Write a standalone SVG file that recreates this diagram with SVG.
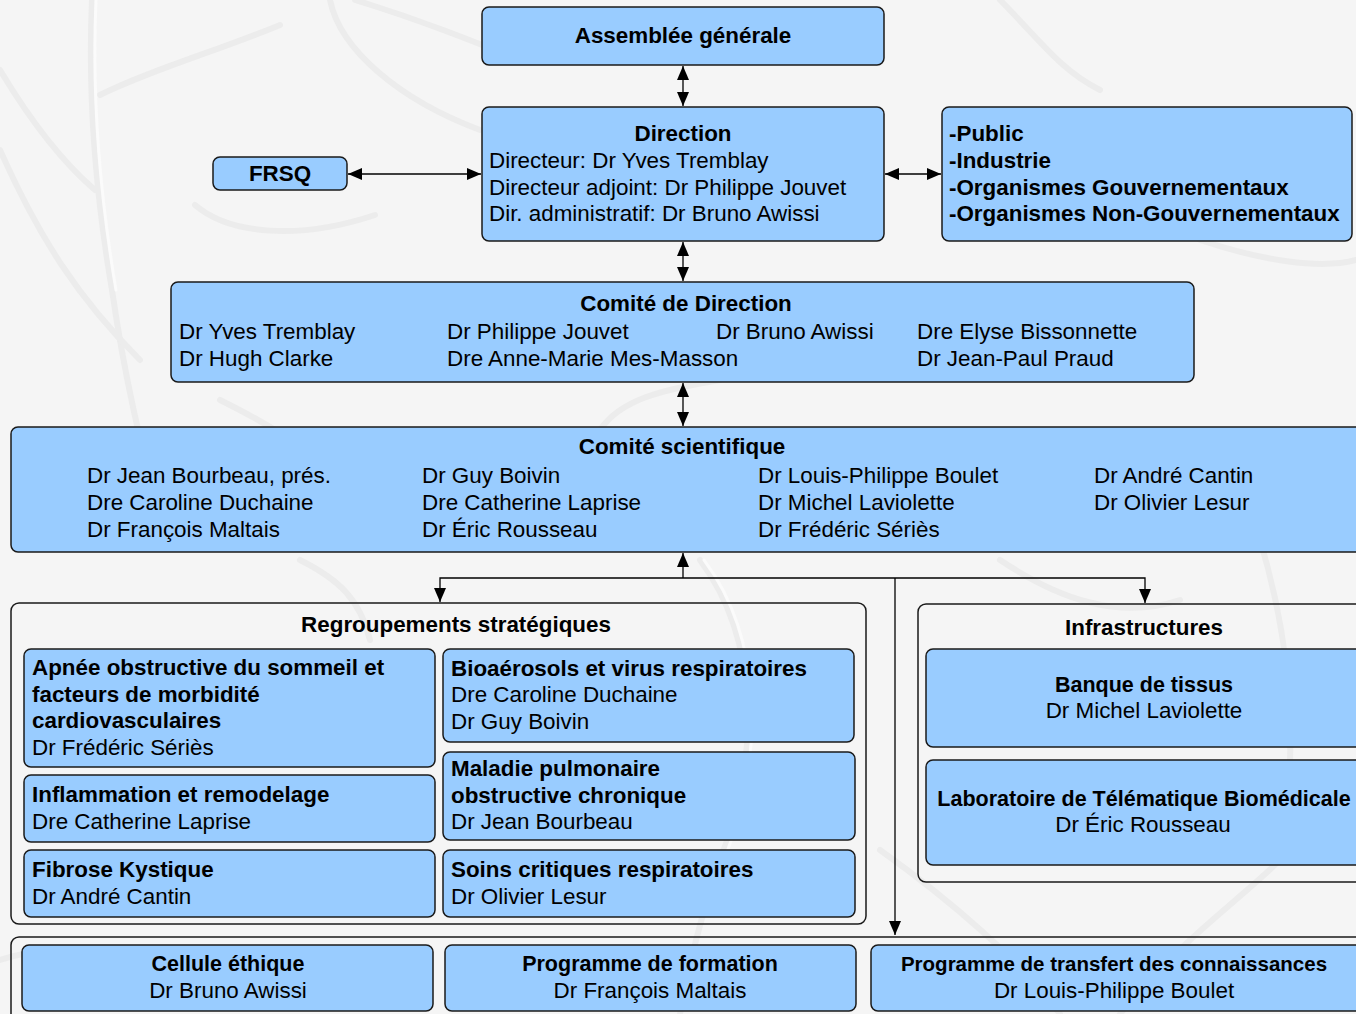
<svg xmlns="http://www.w3.org/2000/svg" width="1356" height="1014" viewBox="0 0 1356 1014">
<style>
.bg{fill:#f5f5f5}
.sw{fill:none;stroke:#ececec;stroke-width:6;stroke-linecap:round}
.swl{fill:none;stroke:#fbfbfb;stroke-width:3;stroke-linecap:round}
.box{fill:#99ccff;stroke:#1a1a1a;stroke-width:1.5}
.grp{fill:none;stroke:#1a1a1a;stroke-width:1.5}
text{font-family:"Liberation Sans",Arial,sans-serif;font-size:22.4px;fill:#000}
.b{font-weight:bold}
.c{text-anchor:middle}
.s{font-size:21.5px}
.xs{font-size:20.5px}
.ln{fill:none;stroke:#000;stroke-width:1.3}
</style>
<defs>
<marker id="ah" viewBox="0 0 14 12" refX="14" refY="6" markerWidth="14" markerHeight="12" markerUnits="userSpaceOnUse" orient="auto-start-reverse">
<path d="M0,0 L14,6 L0,12 Z" fill="#000"/>
</marker>
</defs>
<rect class="bg" x="0" y="0" width="1356" height="1014"/>
<g id="background-swirls">
<path class="sw" d="M92,0 C88,90 95,190 112,290 C125,380 140,440 160,520"/>
<path class="sw" d="M100,95 C150,70 220,50 280,25"/>
<path class="sw" d="M0,70 C30,120 60,160 95,190"/>
<path class="sw" d="M0,150 C40,240 80,300 140,360"/>
<path class="sw" d="M195,205 C230,235 300,240 375,215"/>
<path class="sw" d="M330,0 C340,50 400,100 480,130"/>
<path class="sw" d="M355,0 C420,20 470,40 520,60"/>
<path class="sw" d="M700,560 C760,640 760,760 720,860 C700,920 690,960 680,1014"/>
<path class="sw" d="M600,430 C620,400 660,390 720,380"/>
<path class="sw" d="M1260,540 C1290,640 1300,740 1280,860"/>
<path class="sw" d="M1000,560 C1060,600 1120,620 1180,600"/>
<path class="sw" d="M880,850 C950,900 1020,960 1060,1014"/>
<path class="sw" d="M1280,860 C1240,900 1180,940 1120,1014"/>
<path class="sw" d="M1000,0 C1040,40 1060,70 1100,90"/>
<path class="sw" d="M1200,240 C1260,260 1320,270 1356,260"/>
<path class="sw" d="M0,960 C60,940 120,950 180,1000"/>
<path class="sw" d="M220,400 C260,420 300,440 330,480"/>
<path class="sw" d="M300,560 C340,580 360,600 370,640"/>
<path class="swl" d="M96,0 C92,90 99,190 116,290"/>
<path class="swl" d="M704,560 C764,640 764,760 724,860"/>
</g>
<g id="connectors">
<line class="ln" x1="683" y1="66" x2="683" y2="106" marker-start="url(#ah)" marker-end="url(#ah)"/>
<line class="ln" x1="348" y1="174" x2="481" y2="174" marker-start="url(#ah)" marker-end="url(#ah)"/>
<line class="ln" x1="885" y1="174" x2="941" y2="174" marker-start="url(#ah)" marker-end="url(#ah)"/>
<line class="ln" x1="683" y1="242" x2="683" y2="281" marker-start="url(#ah)" marker-end="url(#ah)"/>
<line class="ln" x1="683" y1="383" x2="683" y2="426" marker-start="url(#ah)" marker-end="url(#ah)"/>
<line class="ln" x1="683" y1="578" x2="683" y2="553" marker-end="url(#ah)"/>
<polyline class="ln" points="440,602 440,578 1145,578 1145,603" marker-start="url(#ah)" marker-end="url(#ah)"/>
<line class="ln" x1="895" y1="578" x2="895" y2="935" marker-end="url(#ah)"/>
</g>
<g id="assemblee">
<rect class="box" x="482" y="7" width="402" height="58" rx="7"/>
<text class="b c" x="683" y="43">Assemblée générale</text>
</g>
<g id="direction">
<rect class="box" x="482" y="107" width="402" height="134" rx="7"/>
<text class="b c" x="683" y="141">Direction</text>
<text x="489" y="168">Directeur: Dr Yves Tremblay</text>
<text x="489" y="195">Directeur adjoint: Dr Philippe Jouvet</text>
<text x="489" y="221">Dir. administratif: Dr Bruno Awissi</text>
</g>
<g id="frsq">
<rect class="box" x="213" y="157" width="134" height="33" rx="7"/>
<text class="b c" x="280" y="181">FRSQ</text>
</g>
<g id="partenaires">
<rect class="box" x="942" y="107" width="410" height="134" rx="7"/>
<text class="b" x="949" y="141">-Public</text>
<text class="b" x="949" y="168">-Industrie</text>
<text class="b" x="949" y="195">-Organismes Gouvernementaux</text>
<text class="b" x="949" y="221">-Organismes Non-Gouvernementaux</text>
</g>
<g id="comite-direction">
<rect class="box" x="171" y="282" width="1023" height="100" rx="7"/>
<text class="b c" x="686" y="311">Comité de Direction</text>
<text x="179" y="339">Dr Yves Tremblay</text>
<text x="447" y="339">Dr Philippe Jouvet</text>
<text x="716" y="339">Dr Bruno Awissi</text>
<text x="917" y="339">Dre Elyse Bissonnette</text>
<text x="179" y="366">Dr Hugh Clarke</text>
<text x="447" y="366">Dre Anne-Marie Mes-Masson</text>
<text x="917" y="366">Dr Jean-Paul Praud</text>
</g>
<g id="comite-scientifique">
<rect class="box" x="11" y="427" width="1360" height="125" rx="7"/>
<text class="b c" x="682" y="454">Comité scientifique</text>
<text x="87" y="483">Dr Jean Bourbeau, prés.</text>
<text x="87" y="510">Dre Caroline Duchaine</text>
<text x="87" y="537">Dr François Maltais</text>
<text x="422" y="483">Dr Guy Boivin</text>
<text x="422" y="510">Dre Catherine Laprise</text>
<text x="422" y="537">Dr Éric Rousseau</text>
<text x="758" y="483">Dr Louis-Philippe Boulet</text>
<text x="758" y="510">Dr Michel Laviolette</text>
<text x="758" y="537">Dr Frédéric Sériès</text>
<text x="1094" y="483">Dr André Cantin</text>
<text x="1094" y="510">Dr Olivier Lesur</text>
</g>
<g id="regroupements">
<rect class="grp" x="11" y="603" width="855" height="321" rx="8"/>
<text class="b c" x="456" y="632">Regroupements stratégiques</text>
</g>
<g id="apnee">
<rect class="box" x="24" y="649" width="411" height="118" rx="7"/>
<text class="b" x="32" y="675">Apnée obstructive du sommeil et</text>
<text class="b" x="32" y="702">facteurs de morbidité</text>
<text class="b" x="32" y="728">cardiovasculaires</text>
<text x="32" y="755">Dr Frédéric Sériès</text>
</g>
<g id="inflammation">
<rect class="box" x="24" y="775" width="411" height="67" rx="7"/>
<text class="b" x="32" y="802">Inflammation et remodelage</text>
<text x="32" y="829">Dre Catherine Laprise</text>
</g>
<g id="fibrose">
<rect class="box" x="24" y="850" width="411" height="67" rx="7"/>
<text class="b" x="32" y="877">Fibrose Kystique</text>
<text x="32" y="904">Dr André Cantin</text>
</g>
<g id="bioaerosols">
<rect class="box" x="443" y="649" width="411" height="93" rx="7"/>
<text class="b" x="451" y="676">Bioaérosols et virus respiratoires</text>
<text x="451" y="702">Dre Caroline Duchaine</text>
<text x="451" y="729">Dr Guy Boivin</text>
</g>
<g id="mpoc">
<rect class="box" x="443" y="752" width="412" height="88" rx="7"/>
<text class="b" x="451" y="776">Maladie pulmonaire</text>
<text class="b" x="451" y="803">obstructive chronique</text>
<text x="451" y="829">Dr Jean Bourbeau</text>
</g>
<g id="soins">
<rect class="box" x="443" y="850" width="412" height="67" rx="7"/>
<text class="b" x="451" y="877">Soins critiques respiratoires</text>
<text x="451" y="904">Dr Olivier Lesur</text>
</g>
<g id="infrastructures">
<rect class="grp" x="918" y="604" width="460" height="278" rx="8"/>
<text class="b c" x="1144" y="635">Infrastructures</text>
</g>
<g id="banque">
<rect class="box" x="926" y="649" width="450" height="98" rx="7"/>
<text class="b c s" x="1144" y="692">Banque de tissus</text>
<text class="c" x="1144" y="718">Dr Michel Laviolette</text>
</g>
<g id="laboratoire">
<rect class="box" x="926" y="760" width="450" height="105" rx="7"/>
<text class="b c s" x="1144" y="806">Laboratoire de Télématique Biomédicale</text>
<text class="c" x="1143" y="832">Dr Éric Rousseau</text>
</g>
<g id="programmes">
<rect class="grp" x="11" y="937" width="1370" height="100" rx="8"/>
</g>
<g id="cellule">
<rect class="box" x="22" y="945" width="411" height="66" rx="7"/>
<text class="b c s" x="228" y="971">Cellule éthique</text>
<text class="c" x="228" y="998">Dr Bruno Awissi</text>
</g>
<g id="formation">
<rect class="box" x="445" y="945" width="411" height="66" rx="7"/>
<text class="b c s" x="650" y="971">Programme de formation</text>
<text class="c" x="650" y="998">Dr François Maltais</text>
</g>
<g id="transfert">
<rect class="box" x="871" y="945" width="500" height="66" rx="7"/>
<text class="b c xs" x="1114" y="971">Programme de transfert des connaissances</text>
<text class="c" x="1114" y="998">Dr Louis-Philippe Boulet</text>
</g>
</svg>
